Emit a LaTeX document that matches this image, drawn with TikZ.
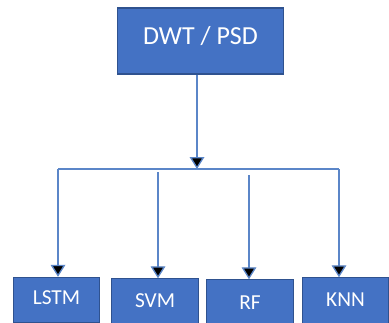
\documentclass[tikz,border=0pt]{standalone}
\usepackage{fontspec}
\setmainfont{Carlito}
\usepackage{xcolor}
\usetikzlibrary{positioning,arrows.meta}

\definecolor{boxblue}{HTML}{4472C4}
\definecolor{boxedge}{HTML}{2F528F}
\definecolor{linkblue}{HTML}{5B86C8}

\begin{document}
\begin{tikzpicture}[x=0.75pt, y=-0.75pt, >={Triangle[width=11pt,length=9pt]},
    box/.style={draw=boxedge, fill=boxblue, text=white, line width=0.8pt, inner sep=0pt},
    model/.style={box, minimum width=65pt, minimum height=34pt, font=\fontsize{16}{19}\selectfont},
    link/.style={draw=linkblue, line width=1pt}]
		\useasboundingbox (0,0) rectangle (389,322);
		\clip (0,0) rectangle (389,322);

		\node[box, minimum width=125pt, minimum height=49.5pt, font=\fontsize{19.5}{23}\selectfont] (dwt) at (200.5,41) {\raisebox{9pt}{DWT / PSD}};

		\node[model] (lstm) at (56.5,300) {\raisebox{3pt}{LSTM}};
		\node[model] (svm) at (155,301.5) {\raisebox{2pt}{SVM}};
		\node[model] (rf) at (250,302.5) {RF};
		\node[model] (knn) at (345.5,300.5) {\raisebox{2pt}{KNN}};

		\coordinate (split) at (197,169);
		\coordinate (left) at (58,169);
		\coordinate (right) at (339,169);
		\coordinate (svmtop) at (158,172);
		\coordinate (rftop) at (249,175);

		\path[link] (dwt.south -| split) edge[->] (split);
		\draw[link] (left) -- (right);

		\path[link] (left) edge[->] (lstm.north -| left);
		\path[link] (svmtop) edge[->] (svm.north -| svmtop);
		\path[link] (rftop) edge[->] (rf.north -| rftop);
		\path[link] (right) edge[->] (knn.north -| right);
	\end{tikzpicture}
\end{document}
